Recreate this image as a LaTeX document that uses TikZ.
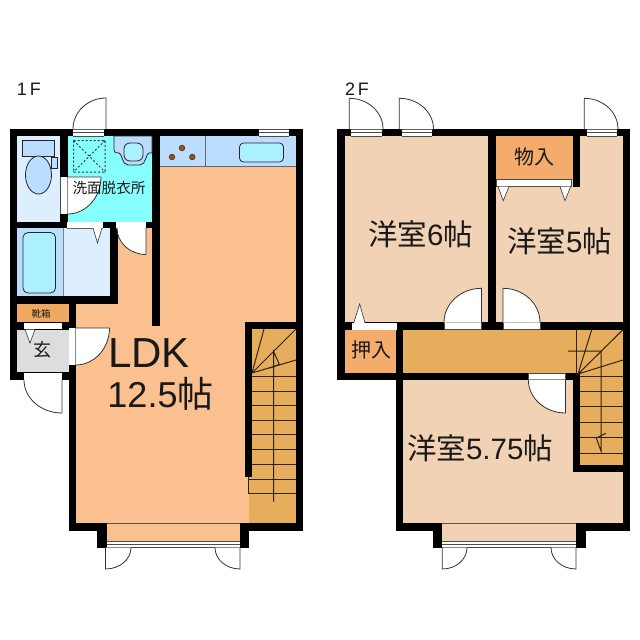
\documentclass[tikz,border=0pt]{standalone}
\usepackage{fontspec}
\setmainfont{Liberation Sans}
\newfontfamily\cjk{Noto Sans CJK JP}
\definecolor{ldk}{HTML}{FBC08F}
\definecolor{room}{HTML}{F2D2B5}
\definecolor{stair}{HTML}{E6AD5C}
\definecolor{closet}{HTML}{F4AC6C}
\definecolor{shoe}{HTML}{F0A860}
\definecolor{wash}{HTML}{88FFFF}
\definecolor{fixt}{HTML}{BBDDFF}
\definecolor{bathf}{HTML}{DDEEFF}
\definecolor{tub}{HTML}{AAF0FF}
\definecolor{genkan}{HTML}{DDDDDD}
\definecolor{burner}{HTML}{A85000}
\tikzset{
 wall/.style={fill=black,draw=none},
 opening/.style={fill=white,draw=black!70,line width=.6pt},
 leaf/.style={fill=white,draw=black!80,line width=.8pt},
 thin/.style={draw=black!85,line width=.8pt},
 tread/.style={draw=black!80!stair,line width=1pt},
 label/.style={inner sep=0pt,text=black!90},
}
\newcommand{\win}[4]{% x1 y1 x2 y2 : three-line window
 \fill[white] (#1,#2) rectangle (#3,#4);
 \draw[black!70,line width=.6pt] (#1,#2) -- (#3,#2) (#1,{(#2+#4)/2}) -- (#3,{(#2+#4)/2}) (#1,#4) -- (#3,#4);
}
% hinge (#1,#2), leaf end (#3,#4), swing end (#5,#6)
\newcommand{\doorleaf}[6]{%
 \pgfmathsetmacro\cax{#3+0.5523*(#5-#1)}%
 \pgfmathsetmacro\cay{#4+0.5523*(#6-#2)}%
 \pgfmathsetmacro\cbx{#5+0.5523*(#3-#1)}%
 \pgfmathsetmacro\cby{#6+0.5523*(#4-#2)}%
 \fill[white] (#1,#2) -- (#3,#4) .. controls (\cax,\cay) and (\cbx,\cby) .. (#5,#6) -- cycle;
 \draw[black!80,line width=.8pt] (#1,#2) -- (#3,#4) .. controls (\cax,\cay) and (\cbx,\cby) .. (#5,#6);
}
\begin{document}
\begin{tikzpicture}[x=1pt,y=-1pt]
\useasboundingbox (0,0) rectangle (640,640);
% ===== 1F fills =====
\fill[ldk] (76,136) rectangle (296,523);
\fill[ldk] (106.7,523) rectangle (240,541);
\fill[wash] (67,136) rectangle (152,222);
\fill[bathf] (17,136) rectangle (60,222);
\fill[fixt] (17,228) rectangle (63.5,296);
\fill[bathf] (63.5,228) rectangle (110,296);
\fill[shoe] (17,304) rectangle (68.5,322);
\fill[genkan] (17,329) rectangle (68.5,372);
% counter
\fill[fixt] (160,136) rectangle (296,166);
\draw[black!60,line width=.9pt] (160,166) -- (296,166) (205,136) -- (205,166);
\fill[stair] (252,329) rectangle (296,523);
\fill[stair] (248.7,477) rectangle (252,523);
% ===== 1F walls =====
\fill[wall] (9.5,129) rectangle (303,136);
\fill[wall] (9.5,129) rectangle (17,380);
\fill[wall] (296,129) rectangle (303,531);
\fill[wall] (60,136) rectangle (67.5,228);
\fill[wall] (152,136) rectangle (160,326);
\fill[wall] (17,222) rectangle (152,228);
\fill[wall] (110,222) rectangle (118,304);
\fill[wall] (9.5,296) rectangle (118,304);
\fill[wall] (9.5,322) rectangle (76,329.5);
\fill[wall] (68.5,304) rectangle (76,531);
\fill[wall] (9.5,372) rectangle (76,380);
\fill[wall] (68.5,523) rectangle (106.7,531);
\fill[wall] (97,523) rectangle (106.7,547.7);
\fill[wall] (240,523) rectangle (303,531);
\fill[wall] (240,523) rectangle (249,547.7);
\fill[wall] (245,322) rectangle (303,329);
\fill[wall] (245,322) rectangle (252,477);
\draw[black!60!ldk,line width=1pt] (106.7,523) -- (240,523);
% 1F windows/openings
\win{73}{129.5}{104}{136}
\win{259}{129.5}{289}{136}
\win{106.7}{541}{240}{547.7}
\fill[white] (67,222) rectangle (103,228);
\draw[black!60,line width=.5pt] (67,228) -- (103,228);
\fill[white] (116,222) rectangle (146,228);
\draw[black!60,line width=.5pt] (116,228) -- (146,228);
\fill[white] (24,322.5) rectangle (62,329);
\fill[white] (24,373) rectangle (62,380);
\fill[white] (60,177) rectangle (67.5,214);
\draw[black!70,line width=.6pt] (60,177) -- (60,214) (67.5,177) -- (67.5,214);
\fill[white] (69,328) rectangle (75.5,365);
\draw[black!70,line width=.6pt] (75.5,328) -- (75.5,365);
% 1F door leaves
\doorleaf{106}{129}{106}{98}{73}{129}
\doorleaf{67.5}{177}{101}{177}{67.5}{214}
\doorleaf{146}{228}{146}{254.5}{117}{228}
\doorleaf{75.5}{328}{109.5}{328}{75.5}{365}
\doorleaf{62}{380}{62}{413}{24}{380}
\doorleaf{105.5}{547.7}{105.5}{569}{131}{547.7}
\doorleaf{240}{547.7}{240}{569}{215}{547.7}
% triangles
\draw[leaf,line width=.6pt] (93,228) -- (97.5,243) -- (102,228);
\draw[leaf,line width=.6pt] (25,329.5) -- (30,343) -- (35,329.5);
% toilet
\draw[thin,fill=fixt] (22.7,140) rectangle (54.7,156);
\draw[thin,fill=fixt] (51.7,157) rectangle (57,168);
\draw[thin,fill=fixt] (38.5,175) ellipse[x radius=13,y radius=19];
% shower
\draw[line width=1pt,black!80,dash pattern=on 2pt off 2pt] (73.5,140.5) rectangle (105,172) (73.5,140.5) -- (105,172) (105,140.5) -- (73.5,172);
% wash sink
\draw[thin,fill=fixt] (114,136) -- (114,150) .. controls (114,153) and (116,153) .. (119,153) .. controls (122,153) and (122,165) .. (128,165) -- (140,165) .. controls (146,165) and (146,153) .. (149,153) -- (152,153) -- (152,136) -- cycle;
\draw[thin,fill=tub,rounded corners=6pt] (124,143) rectangle (143,161);
% tub
\draw[thin,fill=tub,rounded corners=5pt] (23,232.5) rectangle (55.5,293);
\draw[black!50,line width=.6pt] (63.5,228) -- (63.5,296);
% kitchen
\draw[thin,fill=tub,rounded corners=4pt] (239.5,143) rectangle (283.5,162);
\foreach \p in {(182,148),(172,157),(192.3,157)} \draw[black!80,fill=burner,line width=.6pt] \p circle[radius=2.8];
% stairs 1F
\foreach \yy in {376,391,405.5,420,434.5,449.5,464} \draw[tread] (252,\yy) -- (296,\yy);
\draw[tread] (248.7,477) -- (248.7,493.5) -- (296,493.5) (248.7,479) -- (296,479);
\draw[tread] (252,373) -- (264,329) (252,373) -- (296,329) (252,373) -- (296,360);
\draw[tread] (273.7,501.7) -- (273.7,351.7) -- (279.3,364.3) -- (270,368);
% 1F labels
\node[label,font=\fontsize{18}{18}\selectfont] (t1f) at (29,89) {1\,F};
\node[label,font=\cjk\fontsize{14.6}{15}\selectfont] (twash) at (109,187.5) {洗面脱衣所};
\node[label,font=\cjk\fontsize{9.5}{10}\selectfont] (tshoe) at (41,313.5) {靴箱};
\node[label,font=\cjk\fontsize{18}{18}\selectfont] (tgen) at (43,350) {玄};
\node[label,font=\fontsize{42}{42}\selectfont] (tldk) at (149,353) {LDK};
\node[label,font=\fontsize{36}{36}\selectfont] (tsize) at (160.5,394) {12.5{\cjk 帖}};
% ===== 2F fills =====
\fill[room] (344.7,136) rectangle (488,322);
\fill[room] (496,136) rectangle (623,322);
\fill[closet] (496,136) rectangle (572.5,179.5);
\fill[closet] (345,329.7) rectangle (396,372.5);
\fill[stair] (403,329.7) rectangle (623,373);
\fill[room] (403,379.7) rectangle (573,523);
\fill[room] (403,472) rectangle (623,523);
\fill[room] (442.3,523) rectangle (576,541);
\fill[stair] (580,373) rectangle (623,465);
% ===== 2F walls =====
\fill[wall] (337.3,129) rectangle (630,136.3);
\fill[wall] (337.3,129) rectangle (344.7,380);
\fill[wall] (623,129) rectangle (630,531);
\fill[wall] (488,136) rectangle (496,322);
\fill[wall] (572.5,129) rectangle (580,186.5);
\fill[wall] (337.3,322.3) rectangle (630,329.7);
\fill[wall] (337.3,372.5) rectangle (403,379.7);
\fill[wall] (396,322) rectangle (403,531);
\fill[wall] (396,372.5) rectangle (580,379.7);
\fill[wall] (572.7,373) rectangle (580,472);
\fill[wall] (572.7,465) rectangle (630,472);
\fill[wall] (396,523.3) rectangle (442.3,531);
\fill[wall] (576,523.3) rectangle (630,531);
\fill[wall] (433,523.3) rectangle (442.3,547.7);
\fill[wall] (576,523.3) rectangle (585.7,547.7);
\draw[black!60!room,line width=1pt] (442.3,523.3) -- (576,523.3);
% 2F openings
\win{351}{129.5}{382}{136}
\win{401.7}{129.5}{431.7}{136}
\win{586.7}{129.5}{616.7}{136}
\win{442.3}{541}{576}{547.7}
\draw[opening] (496.7,179.5) rectangle (571.5,186);
\fill[white] (352,323) rectangle (397,329.5);
\draw[opening] (444,322.5) rectangle (481.5,329.5);
\draw[opening] (503,322.5) rectangle (540,329.5);
\draw[opening] (528.3,373) rectangle (565.5,379.5);
% 2F door leaves
\doorleaf{349.3}{129}{349.3}{98.3}{383}{129}
\doorleaf{399.3}{129}{399.3}{98.3}{433.5}{129}
\doorleaf{584.3}{129}{584.3}{98.3}{618}{129}
\doorleaf{481.5}{322.5}{481.5}{288.3}{444}{322.5}
\doorleaf{503}{322.5}{503}{288.3}{540}{322.5}
\doorleaf{565.5}{379.5}{565.5}{413}{528.3}{379.5}
\doorleaf{442.3}{547.7}{442.3}{569}{467}{547.7}
\doorleaf{576}{547.7}{576}{569}{551}{547.7}
% triangles
\draw[leaf,line width=.6pt] (498,186.5) -- (503.3,200.7) -- (509,186.5);
\draw[leaf,line width=.6pt] (560,186.5) -- (565,200.7) -- (570.7,186.5);
\draw[leaf,line width=.6pt] (353.7,323) -- (359.7,304) -- (365,323);
% stairs 2F
\foreach \yy in {376,391.7,406.7,422.7,437.7,453.3} \draw[tread] (580,\yy) -- (623,\yy);
\draw[tread] (576.3,329.7) -- (576.3,373);
\draw[tread] (578,374) -- (591.7,329.7) (578,374) -- (623,329.7) (578,374) -- (623,360);
\draw[tread] (568,351) -- (601,351) -- (601,451) -- (596.3,438) -- (606,433.3);
% 2F labels
\node[label,font=\fontsize{18}{18}\selectfont] (t2f) at (357,89) {2\,F};
\node[label,font=\fontsize{29.5}{30}\selectfont] (t6) at (420.5,234) {{\cjk 洋室}6{\cjk 帖}};
\node[label,font=\fontsize{29.5}{30}\selectfont] (t5) at (559.5,241) {{\cjk 洋室}5{\cjk 帖}};
\node[label,font=\fontsize{29.5}{30}\selectfont] (t575) at (480,448) {{\cjk 洋室}5.75{\cjk 帖}};
\node[label,font=\cjk\fontsize{20}{20}\selectfont] (tmono) at (534,157) {物入};
\node[label,font=\cjk\fontsize{20}{20}\selectfont] (toshi) at (371,350) {押入};
\end{tikzpicture}
\end{document}
